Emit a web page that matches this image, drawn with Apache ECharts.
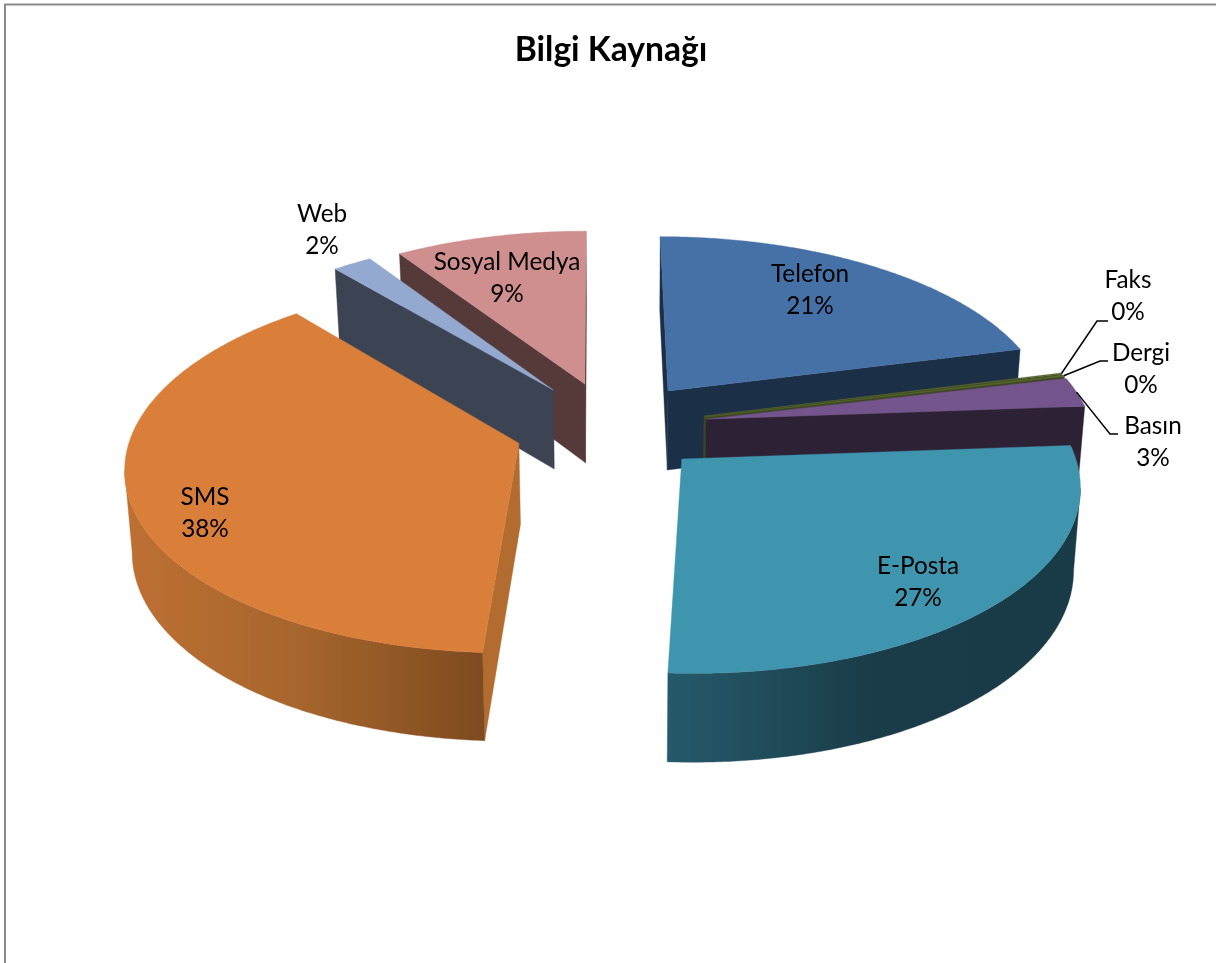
<!DOCTYPE html>
<html>
<head>
<meta charset="utf-8">
<style>html,body{margin:0;padding:0;background:#fff}#c{width:1216px;height:963px}</style>
<script src="https://cdn.jsdelivr.net/npm/echarts@6/dist/echarts.min.js"></script>
</head>
<body>
<div id="c"></div>
<script>
const chartTitle = 'Bilgi Kaynağı';
const categories = ['Telefon', 'Faks', 'Dergi', 'Basın', 'E-Posta', 'SMS', 'Web', 'Sosyal Medya'];
const shares = [21, 0.1, 0.15, 2.6, 27.1, 38, 1.9, 9.2];

// ---- drawing configuration (not data) ----
const view = {cx: 625, cy: 416, fx: 383, fy: 178, perspX: 0.12, skew: 30, perspY: 0.118, drop: 80, dropPersp: 0.081, baseShrink: 0.985};
const explode = [[.1155,.1434],[.2063,-.0006],[.2087,-.0063],[.2115,-.0176],[.1418,-.235],[-.2735,-.15],[-.1894,.1485],[-.1053,.1837]];
const paint = [
  {top:'#4571A6', wall:'#1B2F47', outer:['#1B2F47','#1B2F47']},
  {top:'#56652E', wall:'#3C4620', outer:['#3C4620','#3C4620']},
  {top:'#56652E', wall:'#3C4620', outer:['#3C4620','#3C4620']},
  {top:'#73548C', wall:'#2D2136', outer:['#2D2136','#2D2136']},
  {top:'#4095AE', wall:'#24596B', outer:['#193B47','#1A3C48','#255A6B']},
  {top:'#DA7F3A', wall:'#B36C30', outer:['#7E4A1F','#A5652C','#BE7034']},
  {top:'#93A9CF', wall:'#3C4353', outer:['#3C4353','#3C4353']},
  {top:'#CF8F8F', wall:'#563A3A', outer:['#563A3A','#563A3A']}
];
const drawOrder = [7, 6, 0, 1, 2, 3, 5, 4];
const labels = [
  {x:810, y:290}, {x:1128, y:296, via:[[1097,321],[1108,321]]}, {x:1141, y:369, via:[[1100,361],[1108,361]]},
  {x:1153, y:442, via:[[1110,434],[1118,434]]}, {x:918, y:582}, {x:205, y:513}, {x:322, y:230}, {x:507, y:278}
];
const labelFont = 'Lato, "Open Sans", sans-serif';

const total = shares.reduce((a, b) => a + b, 0);
const startOf = i => shares.slice(0, i).reduce((a, b) => a + b, 0) / total * 360;

function topPoint(X, Y) {
  const wx = 1 + view.perspX * Y;
  return [view.cx + view.fx * X / wx - view.skew * (1 - 1 / wx), view.cy - view.fy * Y / (1 + view.perspY * Y)];
}
function basePoint(X, Y) {
  const p = topPoint(X, Y);
  return [view.cx + (p[0] - view.cx) * view.baseShrink, p[1] + view.drop / (1 + view.dropPersp * Y)];
}
function rim(i, deg) {
  const t = deg * Math.PI / 180;
  return [explode[i][0] + Math.sin(t), explode[i][1] + Math.cos(t)];
}
function cross(a, b, c) {
  return (b[0]-a[0])*(c[1]-b[1]) - (b[1]-a[1])*(c[0]-b[0]);
}

function renderItem(params, api) {
  const i = params.dataIndex;
  const a0 = startOf(i);
  const a1 = a0 + api.value(0) / total * 360;
  const order = drawOrder.indexOf(i) * 10;
  const style = paint[i];
  const children = [];
  const poly = (points, fill, z) => children.push({
    type: 'polygon', z2: order + z, shape: {points},
    style: {fill, stroke: fill, lineWidth: 0.4}
  });

  const steps = Math.max(2, Math.ceil((a1 - a0) * 2));
  const arc = [];
  for (let s = 0; s <= steps; s++) arc.push(rim(i, a0 + (a1 - a0) * s / steps));
  const topArc = arc.map(p => topPoint(p[0], p[1]));
  const baseArc = arc.map(p => basePoint(p[0], p[1]));
  const apexT = topPoint(explode[i][0], explode[i][1]);
  const apexB = basePoint(explode[i][0], explode[i][1]);

  // radial walls
  const sB = topArc[0], sB2 = baseArc[0];
  if (cross(apexT, sB, sB2) < 0) poly([apexT, sB, sB2, apexB], style.wall, 1);
  const eB = topArc[steps], eB2 = baseArc[steps];
  if (cross(apexT, eB, eB2) > 0) poly([apexT, eB, eB2, apexB], style.wall, 2);

  // outer wall: only the part that faces the viewer
  let first = -1, last = -1;
  for (let s = 0; s < steps; s++) {
    if (topArc[s + 1][0] < topArc[s][0]) { if (first < 0) first = s; last = s + 1; }
  }
  if (first >= 0) {
    const t = topArc.slice(first, last + 1), b = baseArc.slice(first, last + 1).reverse();
    const xs = t.concat(b).map(p => p[0]);
    const minX = Math.min(...xs), maxX = Math.max(...xs);
    const stops = style.outer.map((color, k) => ({offset: k / (style.outer.length - 1), color}));
    poly(t.concat(b), {type:'linear', global:true, x:maxX, y:0, x2:minX, y2:0, colorStops: stops}, 3);
  }
  // top face
  poly([apexT].concat(topArc), style.top, 4);

  // label and leader line
  const lab = labels[i];
  if (lab.via) {
    const mid = rim(i, (a0 + a1) / 2);
    children.push({
      type: 'polyline', z2: 900,
      shape: {points: [topPoint(mid[0], mid[1])].concat(lab.via)},
      style: {fill: 'none', stroke: '#000', lineWidth: 1.5}
    });
  }
  children.push({
    type: 'text', z2: 1000,
    style: {
      text: categories[i] + '\n' + Math.round(api.value(0) / total * 100) + '%',
      x: lab.x, y: lab.y, align: 'center', verticalAlign: 'middle',
      fontFamily: labelFont, fontSize: 24.3, lineHeight: 32, fill: '#000'
    }
  });
  return {type: 'group', children};
}

const chart = echarts.init(document.getElementById('c'), null, {renderer: 'canvas'});
chart.setOption({
  animation: false,
  backgroundColor: '#fff',
  title: {
    text: chartTitle, left: 606, top: 28, textAlign: 'center',
    textStyle: {fontFamily: labelFont, fontWeight: 'bold', fontSize: 33.6, color: '#000'}
  },
  graphic: [{
    type: 'polyline', silent: true,
    shape: {points: [[5, 963], [5, 4.5], [1216, 4.5]]},
    style: {fill: 'none', stroke: '#8a8a8a', lineWidth: 2}
  }],
  series: [{
    type: 'custom', coordinateSystem: 'none', clip: false, silent: true,
    renderItem, data: shares.map(v => [v]), encode: {value: 0}
  }]
});
</script>
</body>
</html>
